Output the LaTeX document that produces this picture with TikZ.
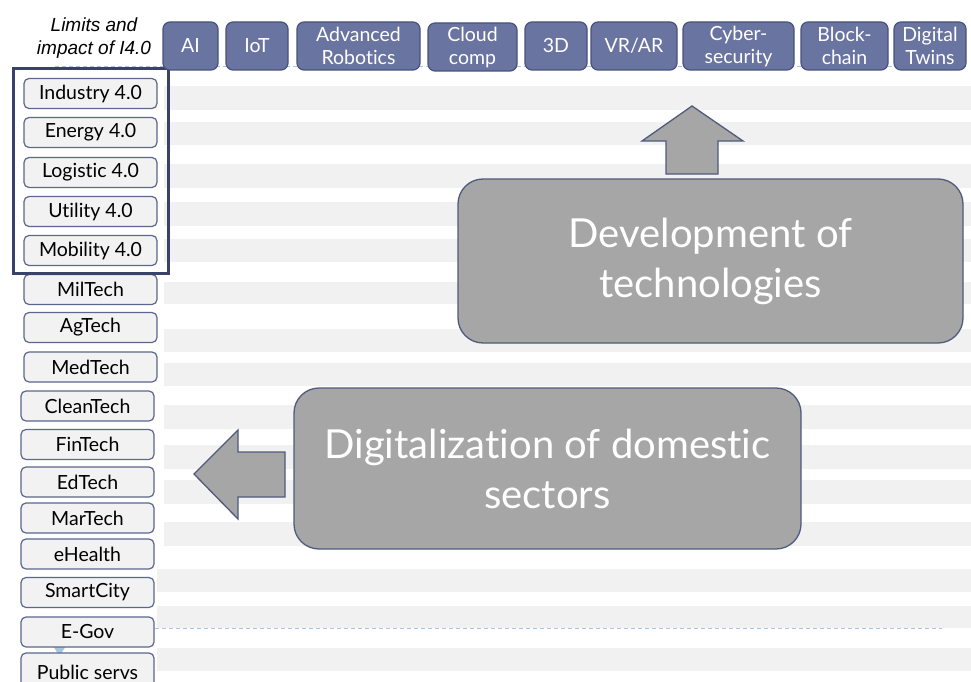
\documentclass[tikz,border=0pt]{standalone}
\usepackage{fontspec}
\setmainfont{Lato}[Ligatures={NoCommon,NoDiscretionary}]
\newfontfamily\captionfont{Liberation Sans}
\definecolor{techfill}{RGB}{106,116,160}
\definecolor{techedge}{RGB}{72,82,124}
\definecolor{sectfill}{RGB}{242,242,242}
\definecolor{sectedge}{RGB}{92,102,142}
\definecolor{frameedge}{RGB}{58,66,108}
\definecolor{bigfill}{RGB}{166,166,166}
\definecolor{bigedge}{RGB}{80,90,124}
\definecolor{stripe}{RGB}{241,241,241}
\definecolor{guide}{RGB}{168,198,224}
\begin{document}
\begin{tikzpicture}[x=1pt,y=-1pt,
  techbox/.style={draw=techedge, fill=techfill, line width=1.2pt, rounded corners=7pt,
    text=white, align=center, inner sep=0pt, minimum height=48pt,
    font=\fontsize{19.5}{23}\selectfont},
  sectbox/.style={draw=sectedge, fill=sectfill, line width=1.2pt, rounded corners=5pt,
    text=black, inner sep=0pt, minimum width=133pt, minimum height=30pt,
    font=\fontsize{19.5}{22}\selectfont},
  bigbox/.style={draw=bigedge, fill=bigfill, line width=1.3pt, rounded corners=25pt,
    text=white, align=center, inner sep=0pt,
    font=\fontsize{40}{50}\selectfont},
  blockarrow/.style={draw=bigedge, fill=bigfill, line width=1.3pt, line join=miter},
  band/.style={fill=stripe},
  guideline/.style={draw=guide, line width=0.9pt, dash pattern=on 4pt off 3pt},
]
\useasboundingbox[fill=white] (0,0) rectangle (971,682);

% background row bands
\foreach \ya/\yb in {86/110,122/145,164/188,202/226,239/262,282/304,329/352,
                     363/386,405/429,445/469,480/504,522/546}
  \fill[band] (164,\ya) rectangle (971,\yb);
\foreach \ya/\yb in {569/592,606/628,648/671}
  \fill[band] (157,\ya) rectangle (971,\yb);

% dashed guides
\coordinate (gtopL) at (55,66);
\coordinate (gtopR) at (966,66);
\coordinate (gbotL) at (155,628);
\coordinate (gbotR) at (942,628);
\draw[guideline] (gtopL) -- (gtopR);
\draw[guideline] (gbotL) -- (gbotR);
\fill[guide] (53,646) -- (66,646) -- (59.5,656) -- cycle;

% caption of the framed group
\node[font=\captionfont\itshape\fontsize{19}{23}\selectfont, align=center, inner sep=0pt,
      anchor=base] (caption) at (94,55) {Limits and\\impact of I4.0};

% sector column
\node[sectbox] (ind)  at (90.5,93.5)  {Industry 4.0};
\node[sectbox] (ene)  at (90.5,132.5) {Energy 4.0};
\node[sectbox] (log)  at (90.5,172.5) {Logistic 4.0};
\node[sectbox] (uti)  at (90.5,211.5) {Utility 4.0};
\node[sectbox] (mob)  at (90.5,250.5) {Mobility 4.0};
\node[sectbox] (mil)  at (90.5,289.5) {MilTech};
\node[sectbox] (ag)   at (90.5,327.5) {AgTech};
\node[sectbox] (med)  at (90.5,367)   {MedTech};
\node[sectbox] (clean) at (87.5,406)  {CleanTech};
\node[sectbox] (fin)  at (87.5,444.5) {FinTech};
\node[sectbox] (ed)   at (87.5,482)   {EdTech};
\node[sectbox] (mar)  at (87.5,518)   {MarTech};
\node[sectbox] (ehe)  at (87.5,554)   {eHealth};
\node[sectbox] (smart) at (87.5,592.5) {SmartCity};
\node[sectbox] (egov) at (87.5,632)   {E-Gov};
\node[sectbox, minimum height=36pt, text depth=0pt] (pub) at (87.5,671) {\raisebox{-2pt}{Public servs}};

% frame around the 4.0 group
\draw[frameedge, line width=3pt] (13,69) rectangle (168,273);

% technology row
\node[techbox, minimum width=55pt]  (ai)    at (190.5,46) {AI};
\node[techbox, minimum width=62pt]  (iot)   at (257,46)   {IoT};
\node[techbox, minimum width=123pt] (robot) at (358.5,46) {Advanced\\Robotics};
\node[techbox, minimum width=89pt]  (cloud) at (472.5,47) {Cloud\\comp};
\node[techbox, minimum width=62pt]  (td)    at (556,46)   {3D};
\node[techbox, minimum width=86pt]  (vrar)  at (634,46)   {VR/AR};
\node[techbox, minimum width=111pt] (cyber) at (738.5,46) {Cyber-\\security};
\node[techbox, minimum width=87pt]  (block) at (844.5,46) {Block-\\chain};
\node[techbox, minimum width=72pt]  (twin)  at (930,46)   {Digital\\Twins};

% block arrows
\draw[blockarrow] (666,174) -- (666,141) -- (642,141) -- (692,106) -- (743,141)
  -- (718,141) -- (718,174) -- cycle;
\draw[blockarrow] (285,452) -- (238,452) -- (238,430) -- (194,474) -- (238,519)
  -- (238,497) -- (285,497) -- cycle;

% the two big statements
\node[bigbox, minimum width=505pt, minimum height=164pt] (dev) at (710.5,261)
  {Development of\\technologies};
\node[bigbox, minimum width=507pt, minimum height=161pt] (dig) at (547.5,468.5)
  {Digitalization of domestic\\sectors};
\end{tikzpicture}
\end{document}
